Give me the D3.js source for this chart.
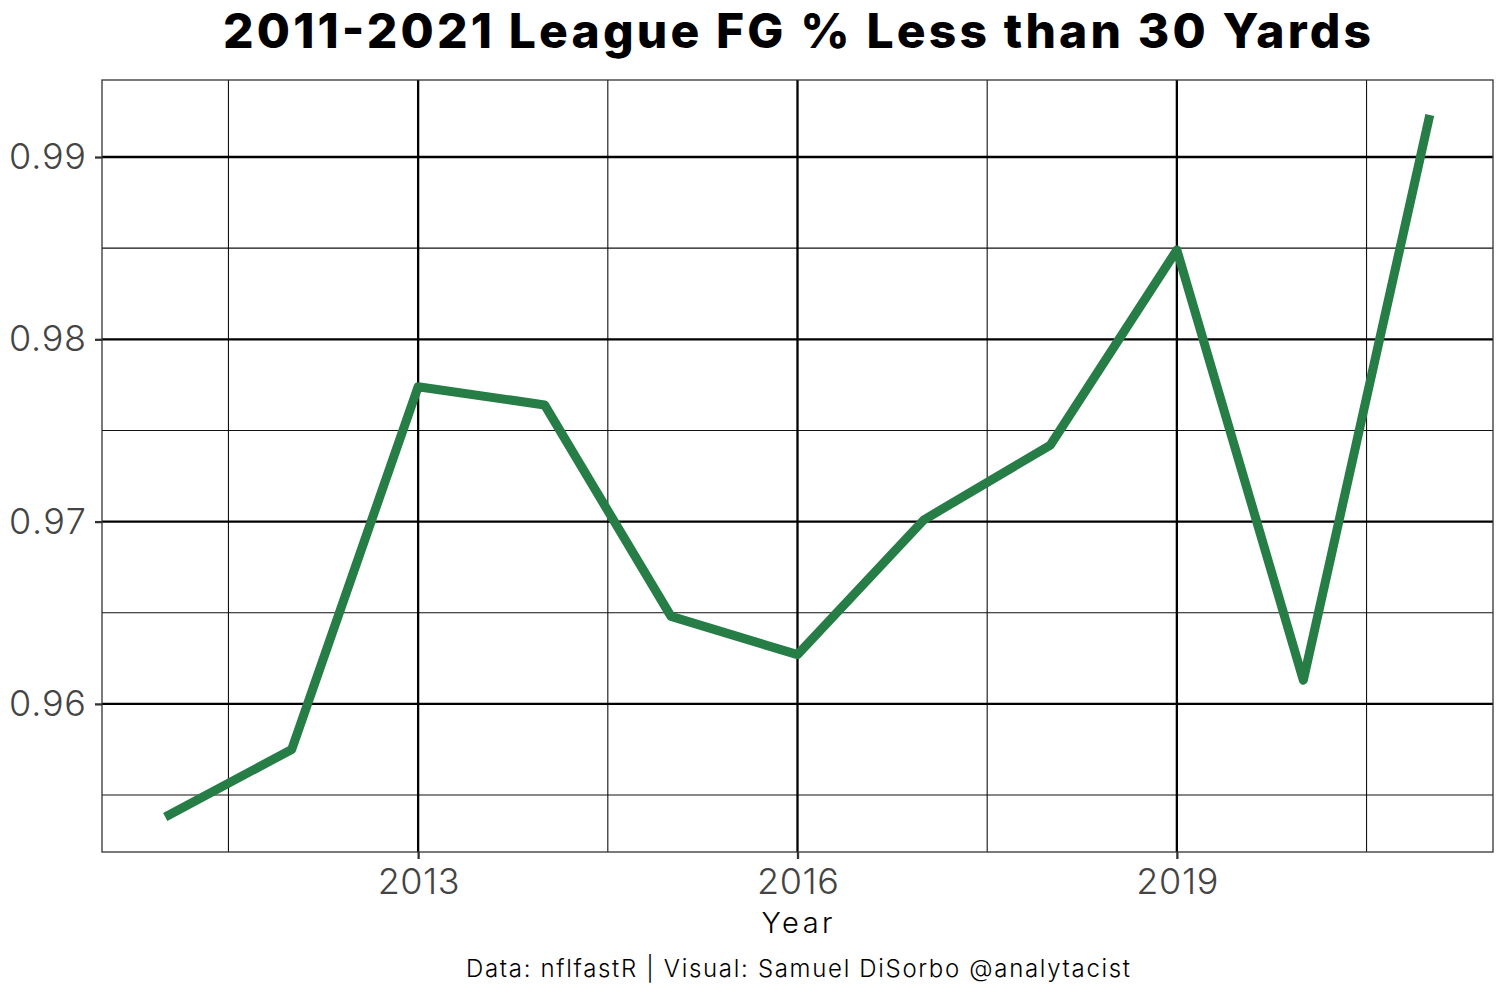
<!DOCTYPE html>
<html>
<head>
<meta charset="utf-8">
<script src="https://cdn.jsdelivr.net/npm/d3@7"></script>
<style>
  body { margin: 0; background: #fff; }
  text { font-family: Inter, "Open Sans", sans-serif; }
</style>
</head>
<body>
<div id="grafico"></div>
<script>
const ancho = 1509;
const alto = 1000;
const margen = { top: 80, right: 16, bottom: 148, left: 102 };

// datos
const years = [2011, 2012, 2013, 2014, 2015, 2016, 2017, 2018, 2019, 2020, 2021];
const fgPct = [0.9538, 0.9575, 0.9774, 0.9764, 0.9648, 0.9627, 0.9701, 0.9742, 0.9849, 0.9613, 0.9923];
const xTicks = [2013, 2016, 2019];
const xMinor = [2011.5, 2014.5, 2017.5, 2020.5];
const yTicks = [0.96, 0.97, 0.98, 0.99];
const yMinor = [0.955, 0.965, 0.975, 0.985];

const svg = d3.select("#grafico")
  .append("svg")
  .attr("width", ancho)
  .attr("height", alto);

const x = d3.scaleLinear()
  .domain([2010.5, 2021.5])
  .range([margen.left, ancho - margen.right]);

const yMin = d3.min(fgPct), yMax = d3.max(fgPct);
const pad = (yMax - yMin) * 0.05;
const y = d3.scaleLinear()
  .domain([yMin - pad, yMax + pad])
  .range([alto - margen.bottom, margen.top]);

const x0 = margen.left, x1 = ancho - margen.right;
const y0 = alto - margen.bottom, y1 = margen.top;

// rejilla menor
svg.selectAll("line.minorY").data(yMinor).enter().append("line")
  .attr("x1", x0).attr("x2", x1)
  .attr("y1", d => y(d)).attr("y2", d => y(d))
  .attr("stroke", "#111").attr("stroke-width", 1.1);
svg.selectAll("line.minorX").data(xMinor).enter().append("line")
  .attr("y1", y0).attr("y2", y1)
  .attr("x1", d => x(d)).attr("x2", d => x(d))
  .attr("stroke", "#111").attr("stroke-width", 1.1);

// rejilla mayor
svg.selectAll("line.majorY").data(yTicks).enter().append("line")
  .attr("x1", x0).attr("x2", x1)
  .attr("y1", d => y(d)).attr("y2", d => y(d))
  .attr("stroke", "#000").attr("stroke-width", 2.3);
svg.selectAll("line.majorX").data(xTicks).enter().append("line")
  .attr("y1", y0).attr("y2", y1)
  .attr("x1", d => x(d)).attr("x2", d => x(d))
  .attr("stroke", "#000").attr("stroke-width", 2.3);

// linea
const linea = d3.line()
  .x((d, i) => x(years[i]))
  .y(d => y(d));

svg.append("path")
  .datum(fgPct)
  .attr("d", linea)
  .attr("fill", "none")
  .attr("stroke", "#267D46")
  .attr("stroke-width", 9)
  .attr("stroke-linejoin", "round")
  .attr("stroke-linecap", "butt");

// borde del panel
svg.append("rect")
  .attr("x", x0).attr("y", y1)
  .attr("width", x1 - x0).attr("height", y0 - y1)
  .attr("fill", "none")
  .attr("stroke", "#333")
  .attr("stroke-width", 1.3);

// ejes
const ejeX = svg.append("g")
  .attr("transform", `translate(0,${y0})`)
  .call(d3.axisBottom(x).tickValues(xTicks).tickFormat(d3.format("d")).tickSize(7).tickPadding(8));
const ejeY = svg.append("g")
  .attr("transform", `translate(${x0},0)`)
  .call(d3.axisLeft(y).tickValues(yTicks).tickFormat(d3.format(".2f")).tickSize(7).tickPadding(9));

[ejeX, ejeY].forEach(g => {
  g.select(".domain").remove();
  g.selectAll(".tick line").attr("stroke", "#333").attr("stroke-width", 2.3);
  g.selectAll(".tick text")
    .attr("fill", "#444")
    .attr("font-size", 36)
    .attr("font-weight", 300)
    .style("font-family", "Inter, 'Open Sans', sans-serif");
});
ejeX.selectAll(".tick text").attr("textLength", 82).attr("lengthAdjust", "spacing").attr("dy", "0.74em");
ejeY.selectAll(".tick text").attr("textLength", 77).attr("lengthAdjust", "spacing");

// titulos
function texto(t, xPos, yPos, size, weight, largo) {
  svg.append("text")
    .attr("x", xPos)
    .attr("y", yPos)
    .attr("text-anchor", "middle")
    .attr("font-size", size)
    .attr("font-weight", weight)
    .attr("fill", "#000")
    .attr("textLength", largo)
    .attr("lengthAdjust", "spacing")
    .text(t);
}

texto("2011-2021 League FG % Less than 30 Yards", 797, 48, 48, 800, 1148);
texto("Year", 797, 933, 29, 300, 71);
texto("Data: nflfastR | Visual: Samuel DiSorbo @analytacist", 798, 977, 24, 300, 664);
</script>
</body>
</html>
